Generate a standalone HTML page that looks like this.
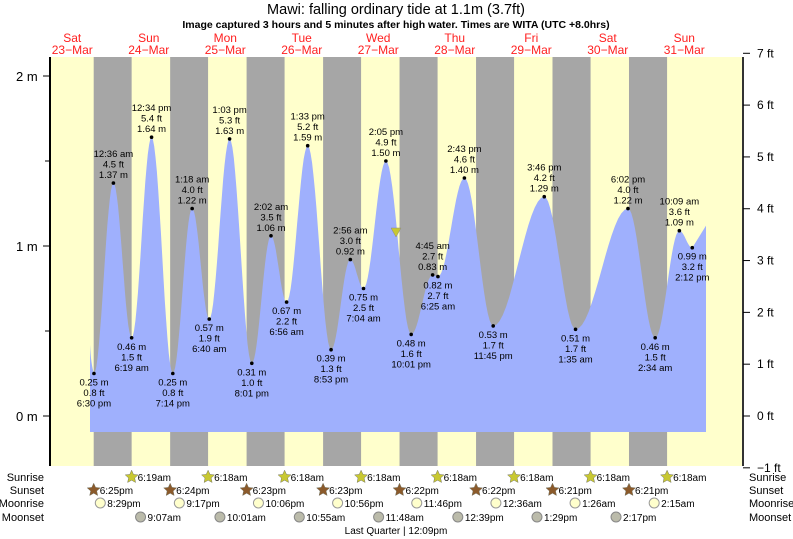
<!DOCTYPE html>
<html><head><meta charset="utf-8"><style>
body{margin:0;background:#fff;}
svg{display:block;font-family:"Liberation Sans",sans-serif;}
</style></head><body>
<svg id="s" width="793" height="539" viewBox="0 0 793 539" xmlns="http://www.w3.org/2000/svg">
<rect x="0" y="0" width="793" height="539" fill="#fff"/>
<g id="bands"></g>
<path id="tide" fill="#9fb0fd" d=""/>
<g id="lbl" font-size="9.5" text-anchor="middle" fill="#000"></g>
<polygon points="391,228 401,228 396,237" fill="#c8c832" stroke="#888" stroke-width="0.5"/>
<line x1="50" y1="57" x2="50" y2="466" stroke="#000" stroke-width="2"/>
<line x1="743" y1="57" x2="743" y2="466" stroke="#333" stroke-width="2"/>
<g font-size="13" fill="#000">
<text x="16" y="81">2 m</text><text x="16" y="251">1 m</text><text x="16" y="421">0 m</text>
</g>
<g stroke="#000" stroke-width="1"><line x1="43" y1="76" x2="50" y2="76"/><line x1="43" y1="246" x2="50" y2="246"/><line x1="43" y1="416" x2="50" y2="416"/>
<line x1="45" y1="161" x2="50" y2="161"/><line x1="45" y1="331" x2="50" y2="331"/></g>
<g id="ft" font-size="12" fill="#000"></g>
<text x="396" y="14" font-size="14.5" text-anchor="middle">Mawi: falling  ordinary tide at 1.1m (3.7ft)</text>
<text x="396" y="28" font-size="10.5" font-weight="bold" text-anchor="middle">Image captured 3 hours and 5 minutes after high water. Times are WITA (UTC +8.0hrs)</text>
<g id="days" font-size="12" fill="#ff2020" text-anchor="middle"></g>
<g font-size="11" fill="#000" text-anchor="end">
<text x="44" y="481">Sunrise</text><text x="44" y="494">Sunset</text><text x="44" y="507">Moonrise</text><text x="44" y="521">Moonset</text></g>
<g font-size="11" fill="#000">
<text x="749" y="481">Sunrise</text><text x="749" y="494">Sunset</text><text x="749" y="507">Moonrise</text><text x="749" y="521">Moonset</text></g>
<g id="ev" font-size="10" fill="#000"></g>
<text x="396" y="534" font-size="10" text-anchor="middle">Last Quarter | 12:09pm</text>
</svg>
<script>
var NS="http://www.w3.org/2000/svg";
function X(d,h,m){return 111.5+((d-24)+(h+m/60)/24)*76.5;}
function Y(v){return 416-170*v;}
function el(p,t,a,txt){var e=document.createElementNS(NS,t);for(var k in a)e.setAttribute(k,a[k]);if(txt!==undefined)e.textContent=txt;document.getElementById(p).appendChild(e);return e;}
el("bands","rect",{x:50,y:57,width:693,height:409,fill:"#ffffcc"});
var sets=[[23,18,25],[24,18,24],[25,18,23],[26,18,23],[27,18,22],[28,18,22],[29,18,21],[30,18,21]];
var rises=[[24,6,19],[25,6,18],[26,6,18],[27,6,18],[28,6,18],[29,6,18],[30,6,18],[31,6,18]];
for(var i=0;i<8;i++){var a=X(sets[i][0],sets[i][1],sets[i][2]),b=X(rises[i][0],rises[i][1],rises[i][2]);el("bands","rect",{x:a,y:57,width:b-a,height:409,fill:"#a6a6a6"});}
for(var f=-1;f<=7;f++){var y=416-f*0.3048*170;el("ft","text",{x:757,y:y+4},(f<0?"\u22121":f)+" ft");el("ft","line",{x1:743,y1:y,x2:750,y2:y,stroke:"#000"});}
var dn=[["Sat","23\u2212Mar"],["Sun","24\u2212Mar"],["Mon","25\u2212Mar"],["Tue","26\u2212Mar"],["Wed","27\u2212Mar"],["Thu","28\u2212Mar"],["Fri","29\u2212Mar"],["Sat","30\u2212Mar"],["Sun","31\u2212Mar"]];
for(var i=0;i<9;i++){var x=X(23+i,12,0)-1;el("days","text",{x:x,y:42},dn[i][0]);el("days","text",{x:x,y:54},dn[i][1]);}
var T=[[23,18,30,0.25,0,"6:30 pm"],[24,0,36,1.37,1,"12:36 am"],[24,6,19,0.46,0,"6:19 am"],[24,12,34,1.64,1,"12:34 pm"],[24,19,14,0.25,0,"7:14 pm"],
[25,1,18,1.22,1,"1:18 am"],[25,6,40,0.57,0,"6:40 am"],[25,13,3,1.63,1,"1:03 pm"],[25,20,1,0.31,0,"8:01 pm"],
[26,2,2,1.06,1,"2:02 am"],[26,6,56,0.67,0,"6:56 am"],[26,13,33,1.59,1,"1:33 pm"],[26,20,53,0.39,0,"8:53 pm"],
[27,2,56,0.92,1,"2:56 am"],[27,7,4,0.75,0,"7:04 am"],[27,14,5,1.50,1,"2:05 pm"],[27,22,1,0.48,0,"10:01 pm"],
[28,4,45,0.83,1,"4:45 am"],[28,6,25,0.82,0,"6:25 am"],[28,14,43,1.40,1,"2:43 pm"],[28,23,45,0.53,0,"11:45 pm"],
[29,15,46,1.29,1,"3:46 pm"],[30,1,35,0.51,0,"1:35 am"],[30,18,2,1.22,1,"6:02 pm"],[31,2,34,0.46,0,"2:34 am"],
[31,10,9,1.09,1,"10:09 am"],[31,14,12,0.99,0,"2:12 pm"]];
var P=[];for(var i=0;i<T.length;i++)P.push([X(T[i][0],T[i][1],T[i][2]),Y(T[i][3])]);
var d="M90,432 L90,"+Y(0.42)+" ";
d+="Q91,"+Y(0.3)+" "+P[0][0]+","+P[0][1]+" ";
for(var i=0;i<P.length-1;i++){var x0=P[i][0],y0=P[i][1],x1=P[i+1][0],y1=P[i+1][1];for(var k=1;k<=16;k++){var t=k/16;var x=x0+(x1-x0)*t;var y=y0+(y1-y0)*(1-Math.cos(Math.PI*t))/2;d+="L"+x.toFixed(1)+","+y.toFixed(1)+" ";}}
d+="L706,"+Y(1.12)+" L706,432 Z";
document.getElementById("tide").setAttribute("d",d);
for(var i=0;i<T.length;i++){var x=P[i][0],y=P[i][1],m=T[i][3],ft=(m/0.3048).toFixed(1)+" ft",ms=m.toFixed(2)+" m";
el("lbl","circle",{cx:x,cy:y,r:1.8,fill:"#000"});
if(T[i][4]){el("lbl","text",{x:x,y:y-26},T[i][5]);el("lbl","text",{x:x,y:y-15.5},ft);el("lbl","text",{x:x,y:y-5},ms);}
else{el("lbl","text",{x:x,y:y+12},ms);el("lbl","text",{x:x,y:y+22.5},ft);el("lbl","text",{x:x,y:y+33},T[i][5]);}}
function star(x,y,c){var p="";for(var k=0;k<10;k++){var r=k%2?3.2:6.8,a=-Math.PI/2+k*Math.PI/5;p+=(x+r*Math.cos(a)).toFixed(1)+","+(y+r*Math.sin(a)).toFixed(1)+" ";}el("ev","polygon",{"points":p,"fill":c,"stroke":"#776","stroke-width":"0.5"});}
var sr=["6:19am","6:18am","6:18am","6:18am","6:18am","6:18am","6:18am","6:18am"];
for(var i=0;i<8;i++){var x=X(rises[i][0],rises[i][1],rises[i][2]);star(x,477,"#c8c832");el("ev","text",{x:x+6,y:481},sr[i]);}
var ss=["6:25pm","6:24pm","6:23pm","6:23pm","6:22pm","6:22pm","6:21pm","6:21pm"];
for(var i=0;i<8;i++){var x=X(sets[i][0],sets[i][1],sets[i][2]);star(x,490,"#8b5a2b");el("ev","text",{x:x+6,y:494},ss[i]);}
var mr=[[23,20,29,"8:29pm"],[24,21,17,"9:17pm"],[25,22,6,"10:06pm"],[26,22,56,"10:56pm"],[27,23,46,"11:46pm"],[29,0,36,"12:36am"],[30,1,26,"1:26am"],[31,2,15,"2:15am"]];
for(var i=0;i<mr.length;i++){var x=X(mr[i][0],mr[i][1],mr[i][2]);el("ev","circle",{cx:x,cy:503,r:5,fill:"#ffffcc",stroke:"#999"});el("ev","text",{x:x+7,y:507},mr[i][3]);}
var ms2=[[24,9,7,"9:07am"],[25,10,1,"10:01am"],[26,10,55,"10:55am"],[27,11,48,"11:48am"],[28,12,39,"12:39pm"],[29,13,29,"1:29pm"],[30,14,17,"2:17pm"]];
for(var i=0;i<ms2.length;i++){var x=X(ms2[i][0],ms2[i][1],ms2[i][2]);el("ev","circle",{cx:x,cy:517,r:5,fill:"#bbbbaa",stroke:"#888"});el("ev","text",{x:x+7,y:521},ms2[i][3]);}
</script>
</body></html>
